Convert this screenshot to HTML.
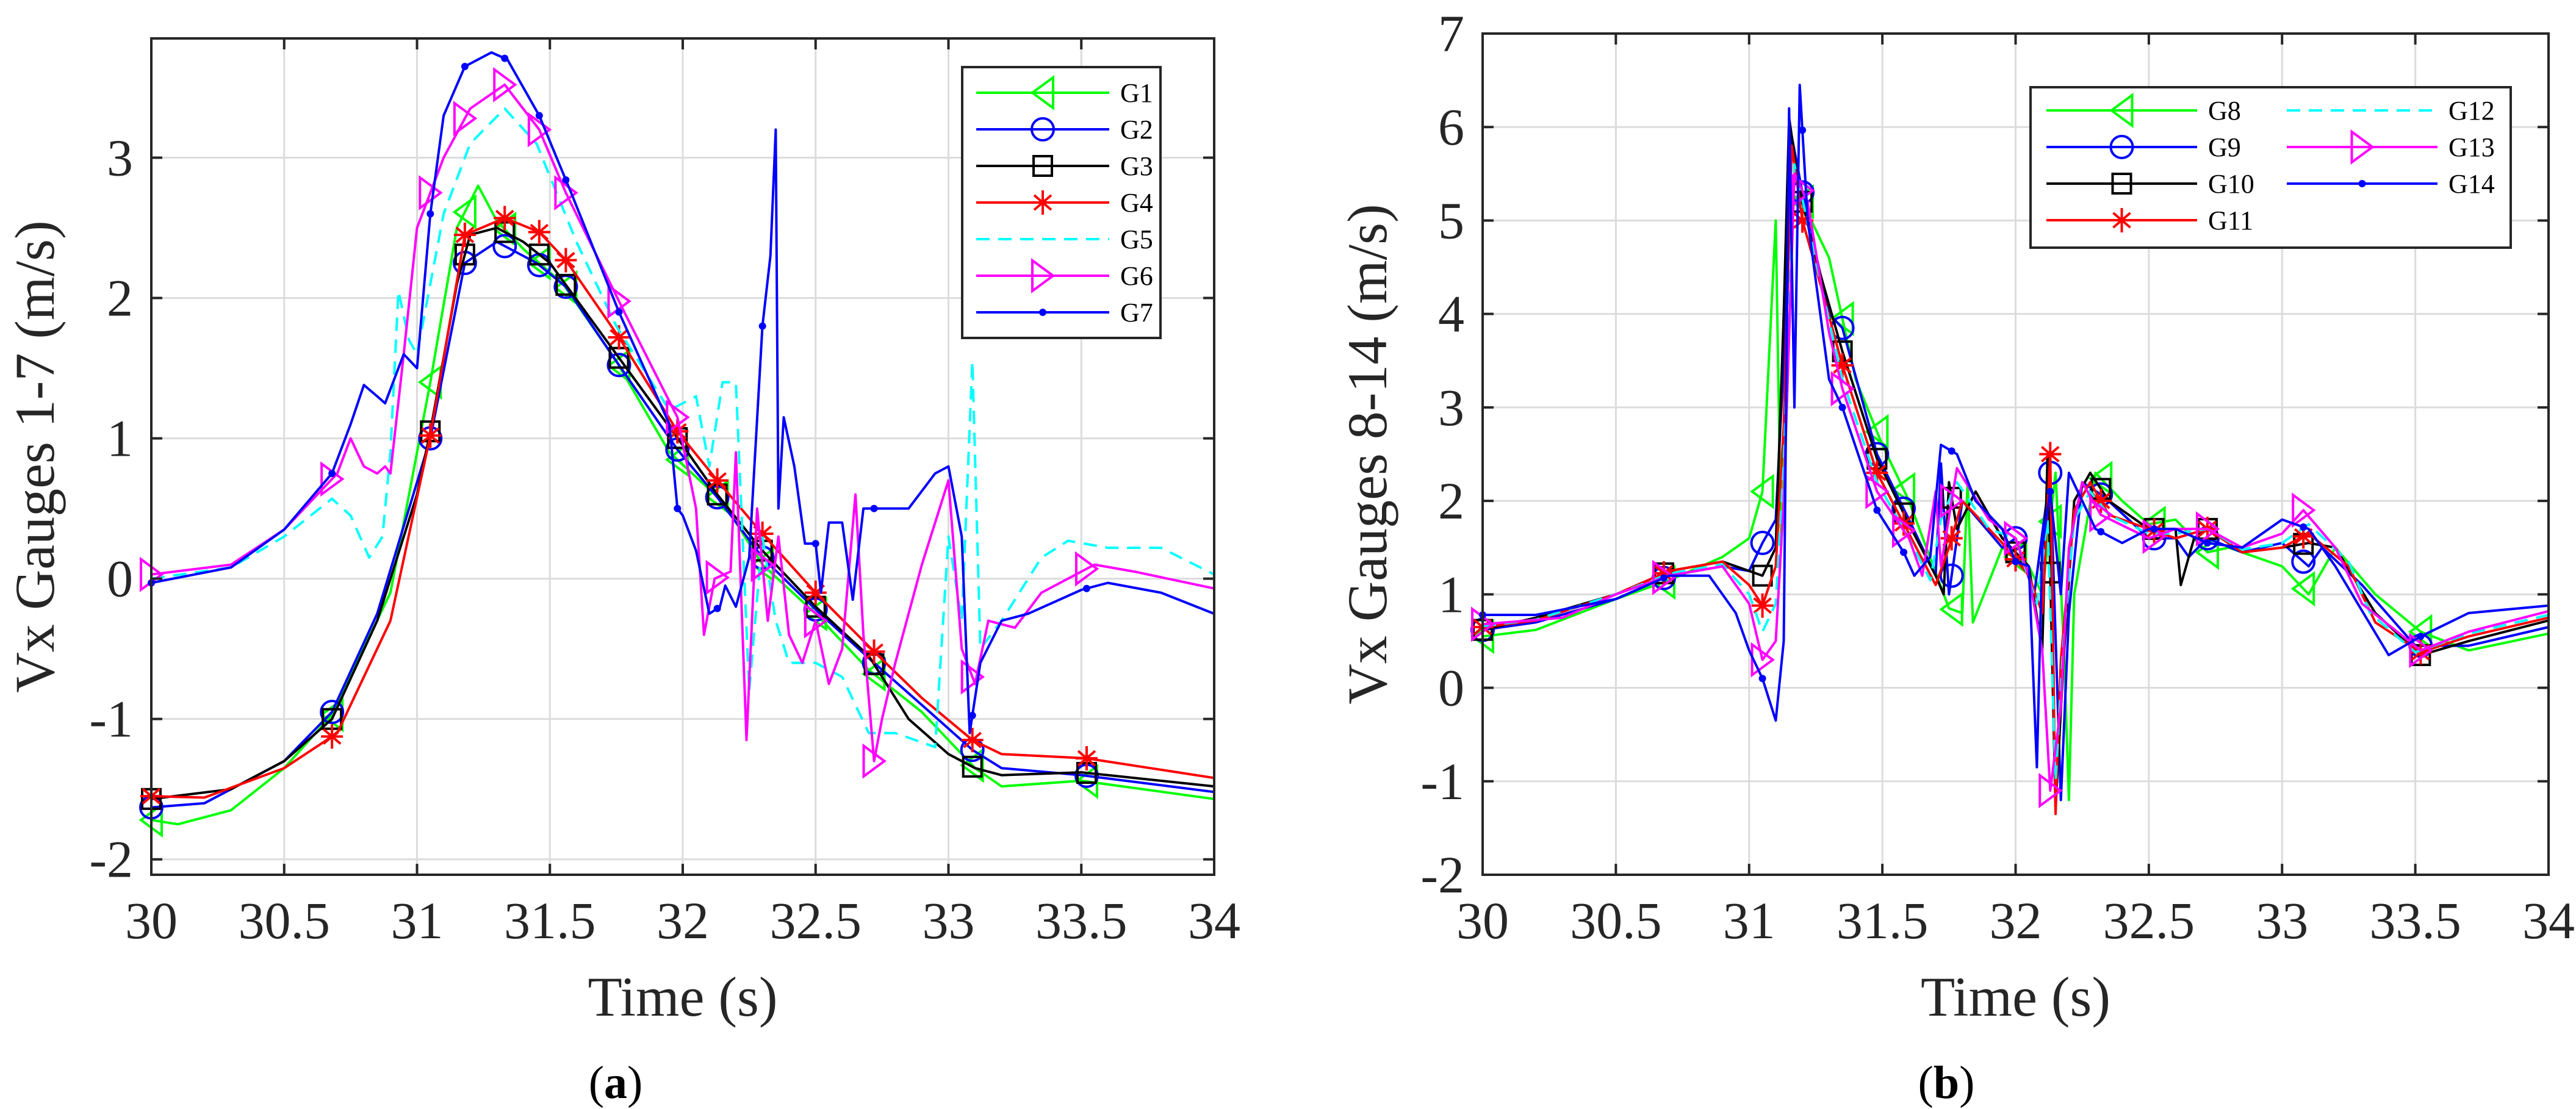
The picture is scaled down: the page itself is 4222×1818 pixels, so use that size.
<!DOCTYPE html>
<html><head><meta charset="utf-8"><style>
html,body{margin:0;padding:0;background:#fff;}
svg{display:block;font-family:"Liberation Serif",serif;}
</style></head><body>
<svg id="fig" width="4222" height="1818" viewBox="0 0 4222 1818" xmlns="http://www.w3.org/2000/svg"></svg>
<script>
// ---------- Chart (a) data ----------
const xTicksA = [30, 30.5, 31, 31.5, 32, 32.5, 33, 33.5, 34];
const xTickLabelsA = ["30","30.5","31","31.5","32","32.5","33","33.5","34"];
const yTicksA = [-2, -1, 0, 1, 2, 3];
const yTickLabelsA = ["-2","-1","0","1","2","3"];
const markerTimesA = [30, 30.68, 31.05, 31.18, 31.33, 31.46, 31.56, 31.76, 31.98, 32.13, 32.3, 32.5, 32.72, 33.09, 33.52];
const g1 = [[30,-1.72],[30.1,-1.75],[30.3,-1.65],[30.5,-1.35],[30.68,-0.97],[30.9,-0.1],[31.05,1.4],[31.15,2.5],[31.23,2.8],[31.3,2.55],[31.4,2.35],[31.55,2.1],[31.75,1.55],[31.95,0.9],[32.15,0.55],[32.3,0.1],[32.5,-0.25],[32.7,-0.65],[32.9,-0.95],[33.1,-1.35],[33.2,-1.48],[33.5,-1.44],[34,-1.57]];
const g2 = [[30,-1.63],[30.2,-1.6],[30.5,-1.3],[30.68,-0.95],[30.85,-0.25],[31.05,1.0],[31.18,2.25],[31.3,2.4],[31.45,2.25],[31.56,2.08],[31.75,1.55],[31.98,0.92],[32.13,0.58],[32.3,0.15],[32.5,-0.22],[32.72,-0.6],[32.9,-0.9],[33.09,-1.22],[33.2,-1.35],[33.5,-1.4],[34,-1.52]];
const g3 = [[30,-1.57],[30.3,-1.5],[30.5,-1.3],[30.68,-1.0],[30.85,-0.3],[31.0,0.6],[31.05,1.05],[31.15,2.1],[31.2,2.45],[31.3,2.5],[31.4,2.4],[31.5,2.25],[31.75,1.6],[32,0.95],[32.13,0.6],[32.3,0.2],[32.5,-0.2],[32.7,-0.55],[32.85,-1.0],[33,-1.25],[33.1,-1.35],[33.2,-1.4],[33.5,-1.38],[34,-1.48]];
const g4 = [[30,-1.55],[30.2,-1.56],[30.5,-1.35],[30.7,-1.1],[30.9,-0.3],[31.05,1.02],[31.18,2.45],[31.33,2.57],[31.46,2.47],[31.56,2.27],[31.76,1.72],[31.98,1.05],[32.13,0.7],[32.3,0.32],[32.5,-0.1],[32.72,-0.52],[32.9,-0.85],[33.09,-1.15],[33.2,-1.25],[33.52,-1.28],[34,-1.42]];
const g5 = [[30,0],[30.3,0.08],[30.5,0.3],[30.68,0.57],[30.75,0.45],[30.82,0.15],[30.87,0.3],[30.9,0.9],[30.93,2.05],[30.97,1.7],[31.0,1.6],[31.1,2.6],[31.2,3.1],[31.33,3.35],[31.45,3.1],[31.6,2.4],[31.75,1.8],[31.95,1.2],[32.05,1.3],[32.1,0.8],[32.15,1.4],[32.2,1.4],[32.25,-0.8],[32.3,0.3],[32.35,-0.3],[32.4,-0.6],[32.5,-0.6],[32.6,-0.7],[32.7,-1.1],[32.8,-1.1],[32.95,-1.2],[33.0,0.3],[33.05,-0.3],[33.09,1.55],[33.12,-0.5],[33.2,-0.3],[33.35,0.15],[33.45,0.27],[33.6,0.22],[33.8,0.22],[34,0.03]];
const g6 = [[30,0.03],[30.3,0.1],[30.5,0.35],[30.7,0.75],[30.75,1.0],[30.8,0.8],[30.85,0.75],[30.88,0.8],[30.9,0.75],[30.95,1.6],[31.0,2.5],[31.1,3.0],[31.2,3.35],[31.33,3.52],[31.46,3.2],[31.56,2.75],[31.78,1.9],[31.98,1.15],[32.05,0.5],[32.08,-0.4],[32.12,0.0],[32.18,0.05],[32.2,0.9],[32.24,-1.15],[32.28,0.5],[32.32,-0.3],[32.36,0.3],[32.4,-0.4],[32.45,-0.6],[32.5,-0.3],[32.55,-0.75],[32.6,-0.5],[32.65,0.6],[32.68,-0.4],[32.72,-1.3],[32.75,-1.0],[32.8,-0.6],[32.9,0.1],[33.0,0.7],[33.05,-0.5],[33.1,-0.75],[33.15,-0.3],[33.25,-0.35],[33.35,-0.1],[33.55,0.1],[33.7,0.05],[34,-0.07]];
const g7 = [[30,-0.03],[30.3,0.08],[30.5,0.35],[30.68,0.75],[30.75,1.1],[30.8,1.38],[30.85,1.3],[30.88,1.25],[30.95,1.6],[31.0,1.5],[31.05,2.6],[31.1,3.3],[31.18,3.65],[31.28,3.75],[31.34,3.7],[31.46,3.3],[31.58,2.75],[31.76,1.9],[31.95,1.1],[31.98,0.5],[32.0,0.45],[32.05,0.2],[32.1,-0.25],[32.14,-0.2],[32.16,-0.05],[32.2,-0.2],[32.25,0.15],[32.3,1.8],[32.33,2.3],[32.35,3.2],[32.36,0.5],[32.38,1.15],[32.42,0.8],[32.46,0.25],[32.5,0.25],[32.52,-0.1],[32.55,0.4],[32.6,0.4],[32.64,-0.15],[32.68,0.5],[32.72,0.5],[32.85,0.5],[32.95,0.75],[33.0,0.8],[33.05,0.3],[33.08,-1.1],[33.12,-0.6],[33.2,-0.3],[33.3,-0.25],[33.5,-0.08],[33.6,-0.03],[33.8,-0.1],[34,-0.25]];

// ---------- Chart (b) data ----------
const xTicksB = [30, 30.5, 31, 31.5, 32, 32.5, 33, 33.5, 34];
const xTickLabelsB = ["30","30.5","31","31.5","32","32.5","33","33.5","34"];
const yTicksB = [-2, -1, 0, 1, 2, 3, 4, 5, 6, 7];
const yTickLabelsB = ["-2","-1","0","1","2","3","4","5","6","7"];
const markerTimesB = [30, 30.68, 31.05, 31.2, 31.35, 31.48, 31.58, 31.76, 32.0, 32.13, 32.32, 32.52, 32.72, 33.08, 33.52];
const g8 = [[30,0.55],[30.2,0.62],[30.5,0.95],[30.7,1.15],[30.9,1.4],[31.0,1.6],[31.05,2.1],[31.1,5.0],[31.12,1.5],[31.15,5.3],[31.2,5.2],[31.3,4.6],[31.4,3.3],[31.5,2.6],[31.6,2.0],[31.75,0.85],[31.8,0.8],[31.82,2.2],[31.84,0.7],[31.95,1.5],[32.05,1.3],[32.1,1.0],[32.15,2.3],[32.18,0.5],[32.2,-1.2],[32.22,1.0],[32.3,2.3],[32.4,2.0],[32.5,1.75],[32.6,1.8],[32.72,1.45],[32.8,1.5],[33.0,1.3],[33.1,1.0],[33.2,1.5],[33.35,1.0],[33.52,0.6],[33.7,0.4],[34,0.58]];
const g9 = [[30,0.62],[30.2,0.7],[30.5,0.95],[30.7,1.2],[30.9,1.3],[31.0,1.25],[31.05,1.55],[31.1,1.8],[31.13,3.5],[31.16,5.9],[31.2,5.3],[31.3,4.0],[31.35,3.85],[31.48,2.5],[31.6,1.8],[31.7,1.2],[31.72,2.4],[31.75,1.0],[31.8,2.0],[31.95,1.5],[32.0,1.6],[32.07,1.0],[32.13,2.3],[32.17,-1.2],[32.2,0.8],[32.25,2.2],[32.33,2.05],[32.5,1.6],[32.6,1.6],[32.65,1.4],[32.72,1.6],[32.85,1.45],[33.0,1.55],[33.1,1.3],[33.15,1.5],[33.3,1.1],[33.5,0.45],[33.7,0.45],[34,0.65]];
const g10 = [[30,0.62],[30.2,0.75],[30.5,1.0],[30.7,1.25],[30.9,1.35],[31.0,1.25],[31.05,1.2],[31.1,1.5],[31.13,4.0],[31.15,6.1],[31.18,5.5],[31.2,5.2],[31.25,4.6],[31.35,3.6],[31.48,2.45],[31.6,1.75],[31.7,1.2],[31.73,1.0],[31.75,2.2],[31.78,1.7],[31.85,2.1],[31.95,1.6],[32.05,1.3],[32.1,0.4],[32.12,2.5],[32.15,-1.3],[32.18,0.3],[32.22,2.0],[32.28,2.3],[32.35,2.0],[32.5,1.7],[32.6,1.7],[32.62,1.1],[32.67,1.6],[32.72,1.7],[32.85,1.45],[33.0,1.5],[33.1,1.55],[33.2,1.5],[33.35,0.8],[33.52,0.35],[33.7,0.5],[34,0.72]];
const g11 = [[30,0.65],[30.2,0.72],[30.5,1.0],[30.7,1.25],[30.9,1.35],[31.0,1.1],[31.05,0.88],[31.1,1.3],[31.13,2.8],[31.16,5.8],[31.2,5.0],[31.25,4.5],[31.35,3.45],[31.48,2.3],[31.6,1.65],[31.7,1.1],[31.75,1.5],[31.8,2.0],[31.95,1.55],[32.05,1.2],[32.1,0.8],[32.13,2.5],[32.15,-1.35],[32.17,0.3],[32.22,1.9],[32.28,2.2],[32.35,1.85],[32.5,1.7],[32.6,1.6],[32.72,1.7],[32.85,1.45],[33.0,1.5],[33.1,1.65],[33.25,1.3],[33.35,0.7],[33.52,0.38],[33.7,0.55],[34,0.75]];
const g12 = [[30,0.66],[30.2,0.73],[30.5,1.0],[30.7,1.22],[30.9,1.32],[31.0,1.0],[31.05,0.6],[31.1,0.9],[31.13,2.4],[31.17,5.6],[31.21,5.1],[31.27,4.3],[31.35,3.3],[31.48,2.2],[31.6,1.6],[31.68,1.15],[31.72,1.8],[31.78,2.2],[31.9,1.7],[32.0,1.6],[32.08,0.9],[32.12,1.8],[32.15,-1.0],[32.18,0.5],[32.22,1.8],[32.28,2.1],[32.35,1.85],[32.5,1.65],[32.6,1.65],[32.72,1.7],[32.85,1.48],[33.0,1.55],[33.1,1.75],[33.25,1.35],[33.33,0.8],[33.5,0.38],[33.7,0.58],[34,0.78]];
const g13 = [[30,0.68],[30.3,0.75],[30.5,1.0],[30.7,1.2],[30.9,1.3],[31.0,0.9],[31.05,0.3],[31.1,0.5],[31.13,2.0],[31.17,5.5],[31.22,5.2],[31.3,3.8],[31.35,3.2],[31.48,2.1],[31.6,1.6],[31.65,1.2],[31.7,2.1],[31.72,1.3],[31.78,2.35],[31.9,1.8],[32.0,1.6],[32.05,1.2],[32.1,0.4],[32.13,-1.1],[32.17,-0.2],[32.2,1.5],[32.25,2.2],[32.32,1.85],[32.5,1.6],[32.6,1.7],[32.72,1.7],[32.85,1.5],[33.0,1.65],[33.08,1.9],[33.2,1.5],[33.3,0.9],[33.52,0.4],[33.7,0.6],[34,0.82]];
const g14 = [[30,0.78],[30.2,0.78],[30.5,0.95],[30.7,1.2],[30.85,1.2],[30.95,0.8],[31.0,0.4],[31.05,0.1],[31.1,-0.35],[31.13,0.5],[31.15,6.2],[31.17,3.0],[31.19,6.45],[31.22,5.0],[31.3,3.3],[31.35,3.0],[31.48,1.9],[31.58,1.45],[31.62,1.2],[31.68,1.4],[31.72,2.6],[31.78,2.5],[31.85,2.0],[31.95,1.7],[32.0,1.35],[32.05,1.3],[32.08,-0.85],[32.1,1.5],[32.13,2.1],[32.17,1.0],[32.2,2.3],[32.3,1.7],[32.4,1.55],[32.5,1.7],[32.6,1.7],[32.72,1.55],[32.85,1.5],[33.0,1.8],[33.1,1.7],[33.2,1.3],[33.4,0.35],[33.52,0.55],[33.7,0.8],[34,0.88]];

const NS = "http://www.w3.org/2000/svg";
const svg = document.getElementById('fig');
function mk(tag, attrs, parent, text) {
  const e = document.createElementNS(NS, tag);
  for (const k in attrs) e.setAttribute(k, attrs[k]);
  if (text !== undefined) e.textContent = text;
  (parent || svg).appendChild(e);
  return e;
}
function interp(data, t) {
  for (let i = 0; i < data.length - 1; i++) {
    if (t >= data[i][0] && t <= data[i+1][0]) {
      const f = (t - data[i][0]) / (data[i+1][0] - data[i][0] || 1);
      return data[i][1] + f * (data[i+1][1] - data[i][1]);
    }
  }
  return data[data.length-1][1];
}
function drawMarker(g, type, color, x, y) {
  let e;
  if (type === 'tri-left') e = mk('polygon', {points: `${x-17},${y} ${x+17},${y-25} ${x+17},${y+25}`, fill:'none', stroke:color, 'stroke-width':4}, g);
  else if (type === 'tri-right') e = mk('polygon', {points: `${x+17},${y} ${x-17},${y-25} ${x-17},${y+25}`, fill:'none', stroke:color, 'stroke-width':4}, g);
  else if (type === 'circle') e = mk('circle', {cx:x, cy:y, r:18, fill:'none', stroke:color, 'stroke-width':4}, g);
  else if (type === 'square') e = mk('rect', {x:x-15, y:y-16, width:30, height:32, fill:'none', stroke:color, 'stroke-width':4}, g);
  else if (type === 'star') {
    e = mk('path', {d:`M${x},${y-20}V${y+20}M${x-14},${y-12}L${x+14},${y+12}M${x-14},${y+12}L${x+14},${y-12}M${x-18},${y}H${x+18}`, stroke:color, 'stroke-width':4, fill:'none'}, g);
  }
  else if (type === 'dot') e = mk('circle', {cx:x, cy:y, r:6, fill:color}, g);
  if (e) {
    
    
  }
}

function drawChart(cfg) {
  const g = mk('g', {});
  
  
  const X = t => cfg.x0 + (t - cfg.xmin) / (cfg.xmax - cfg.xmin) * (cfg.x1 - cfg.x0);
  const Y = v => cfg.y0 + (cfg.ymax - v) / (cfg.ymax - cfg.ymin) * (cfg.y1 - cfg.y0);
  mk('rect', {x:cfg.x0, y:cfg.y0, width:cfg.x1-cfg.x0, height:cfg.y1-cfg.y0, fill:'#fff'}, g);
  const grid = mk('g', {stroke:'#dcdcdc', 'stroke-width':3}, g);
  
  
  cfg.xTicks.forEach(t => mk('line', {x1:X(t), x2:X(t), y1:cfg.y0, y2:cfg.y1}, grid));
  cfg.yTicks.forEach(v => mk('line', {x1:cfg.x0, x2:cfg.x1, y1:Y(v), y2:Y(v)}, grid));
  cfg.series.forEach(s => {
    const sg = mk('g', {}, g);
    
    
    const pts = s.data.map(p => X(p[0]).toFixed(1) + ',' + Y(p[1]).toFixed(1)).join(' ');
    const pl = mk('polyline', {points:pts, fill:'none', stroke:s.color, 'stroke-width':4, 'stroke-linejoin':'round', 'stroke-dasharray': s.dash ? '22,14' : 'none'}, sg);
    
    
    if (s.marker) cfg.markerTimes.forEach(t => drawMarker(sg, s.marker, s.color, X(t), Y(interp(s.data, t))));
  });
  const ax = mk('g', {stroke:'#262626', 'stroke-width':4, fill:'none'}, g);
  
  
  mk('rect', {x:cfg.x0, y:cfg.y0, width:cfg.x1-cfg.x0, height:cfg.y1-cfg.y0}, ax);
  cfg.xTicks.forEach(t => { mk('line', {x1:X(t), x2:X(t), y1:cfg.y1, y2:cfg.y1-18}, ax); mk('line', {x1:X(t), x2:X(t), y1:cfg.y0, y2:cfg.y0+18}, ax); });
  cfg.yTicks.forEach(v => { mk('line', {x1:cfg.x0, x2:cfg.x0+18, y1:Y(v), y2:Y(v)}, ax); mk('line', {x1:cfg.x1, x2:cfg.x1-18, y1:Y(v), y2:Y(v)}, ax); });
  cfg.xTicks.forEach((t, i) => {
    const e = mk('text', {x:X(t), y:cfg.y1+104, 'text-anchor':'middle', 'font-size':86, fill:'#262626'}, g, cfg.xLabels[i]);
    
    
  });
  cfg.yTicks.forEach((v, i) => {
    const e = mk('text', {x:cfg.x0-30, y:Y(v)+29, 'text-anchor':'end', 'font-size':86, fill:'#262626'}, g, cfg.yLabels[i]);
    
    
  });
  const xt = mk('text', {x:(cfg.x0+cfg.x1)/2, y:1665, 'text-anchor':'middle', 'font-size':92, fill:'#262626'}, g, 'Time (s)');
  
  
  const yt = mk('text', {x:0, y:0, 'text-anchor':'middle', 'font-size':92, fill:'#262626', transform:`translate(${cfg.yTitleX},${(cfg.y0+cfg.y1)/2}) rotate(-90)`}, g, cfg.yTitle);
  
  
  const cap = mk('text', {x:cfg.capX, y:1800, 'text-anchor':'middle', 'font-size':76, fill:'#000'}, g);
  
  
  mk('tspan', {}, cap, '(');
  mk('tspan', {'font-weight':'bold'}, cap, cfg.cap);
  mk('tspan', {}, cap, ')');
  const lg = mk('g', {}, g);
  
  
  const L = cfg.legend;
  mk('rect', {x:L.x, y:L.y, width:L.w, height:L.h, fill:'#fff', stroke:'#262626', 'stroke-width':4}, lg);
  cfg.series.forEach((s, i) => {
    const col = Math.floor(i / L.rows), row = i % L.rows;
    const cx = L.x + L.colOff[col], cy = L.y + L.rowY0 + row * L.rowStep;
    const eg = mk('g', {}, lg);
    
    
    mk('line', {x1:cx, x2:cx+L.lineLen, y1:cy, y2:cy, stroke:s.color, 'stroke-width':4, 'stroke-dasharray': s.dash ? '22,14' : 'none'}, eg);
    if (s.marker) drawMarker(eg, s.marker, s.color, cx + L.lineLen/2, cy);
    mk('text', {x:cx+L.lineLen+18, y:cy+15, 'font-size':44, fill:'#000'}, eg, s.label);
  });
}

drawChart({
  name:'chart-a-gauges-1-7', x0:248, x1:1990, y0:63, y1:1434, xmin:30, xmax:34, ymin:-2.11, ymax:3.85,
  xTicks:xTicksA, xLabels:xTickLabelsA, yTicks:yTicksA, yLabels:yTickLabelsA, markerTimes:markerTimesA,
  yTitle:'Vx Gauges 1-7 (m/s)', yTitleX:88, capX:1009, cap:'a',
  series:[
    {label:'G1', data:g1, color:'#00ff00', marker:'tri-left'},
    {label:'G2', data:g2, color:'#0000ff', marker:'circle'},
    {label:'G3', data:g3, color:'#000000', marker:'square'},
    {label:'G4', data:g4, color:'#ff0000', marker:'star'},
    {label:'G5', data:g5, color:'#00ffff', dash:true},
    {label:'G6', data:g6, color:'#ff00ff', marker:'tri-right'},
    {label:'G7', data:g7, color:'#0000ff', marker:'dot'}
  ],
  legend:{x:1577, y:110, w:325, h:444, rows:7, colOff:[23], rowY0:42, rowStep:60, lineLen:218}
});
drawChart({
  name:'chart-b-gauges-8-14', x0:2430, x1:4177, y0:55, y1:1434, xmin:30, xmax:34, ymin:-2, ymax:7,
  xTicks:xTicksB, xLabels:xTickLabelsB, yTicks:yTicksB, yLabels:yTickLabelsB, markerTimes:markerTimesB,
  yTitle:'Vx Gauges 8-14 (m/s)', yTitleX:2272, capX:3190, cap:'b',
  series:[
    {label:'G8', data:g8, color:'#00ff00', marker:'tri-left'},
    {label:'G9', data:g9, color:'#0000ff', marker:'circle'},
    {label:'G10', data:g10, color:'#000000', marker:'square'},
    {label:'G11', data:g11, color:'#ff0000', marker:'star'},
    {label:'G12', data:g12, color:'#00ffff', dash:true},
    {label:'G13', data:g13, color:'#ff00ff', marker:'tri-right'},
    {label:'G14', data:g14, color:'#0000ff', marker:'dot'}
  ],
  legend:{x:3328, y:143, w:787, h:263, rows:4, colOff:[26, 420], rowY0:38, rowStep:60, lineLen:247}
});
</script>
</body></html>
